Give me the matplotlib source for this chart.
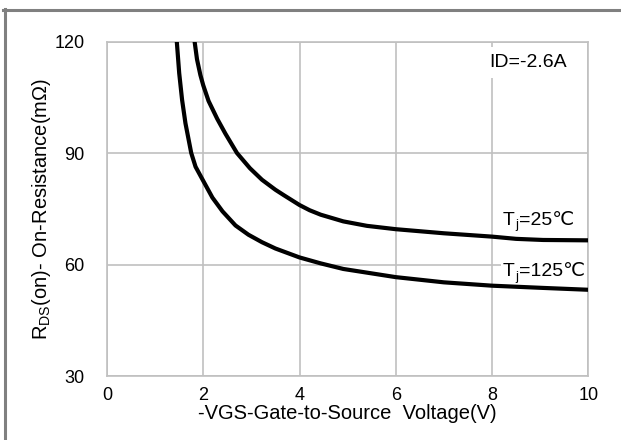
import numpy as np
import matplotlib
matplotlib.use("Agg")
import matplotlib.pyplot as plt
from matplotlib.lines import Line2D

plt.rcParams['font.family'] = ['Liberation Sans', 'DejaVu Sans']
plt.rcParams['mathtext.fontset'] = 'custom'
plt.rcParams['mathtext.rm'] = 'Liberation Sans'

# data
vgs_25 = [1.82, 1.87, 1.94, 2.0, 2.11, 2.29, 2.46, 2.70, 2.97, 3.22, 3.50, 3.68, 4.0, 4.21, 4.44,
          4.91, 5.4, 6.0, 7.0, 8.0, 8.5, 9.06, 10.0]
rds_25 = [120.0, 115.2, 111.0, 108.2, 104.0, 99.2, 95.2, 90.0, 85.9, 82.8, 80.1, 78.6, 76.0, 74.6, 73.4,
          71.6, 70.4, 69.5, 68.4, 67.5, 66.9, 66.6, 66.5]

vgs_125 = [1.45, 1.50, 1.56, 1.63, 1.75, 1.84, 2.0, 2.19, 2.40, 2.67, 2.94, 3.22, 3.50, 4.0, 4.44,
           4.91, 6.0, 7.0, 8.0, 9.06, 10.0]
rds_125 = [120.0, 111.5, 104.3, 98.0, 90.0, 86.3, 82.5, 78.0, 74.3, 70.5, 68.0, 66.0, 64.3, 61.9, 60.3,
           58.8, 56.6, 55.2, 54.3, 53.7, 53.2]

x_ticks = [0, 2, 4, 6, 8, 10]
y_ticks = [30, 60, 90, 120]

fig = plt.figure(figsize=(6.21, 4.40), dpi=100)
ax = fig.add_axes([107 / 621, 1 - 376 / 440, 481.3 / 621, 334.5 / 440])

grid_c = '#c0c0c0'
for v, r in [(vgs_25, rds_25), (vgs_125, rds_125)]:
    ax.plot(v, r, color='black', lw=3.0, solid_capstyle='butt', solid_joinstyle='round', zorder=3)

ax.set_xlim(0, 10)
ax.set_ylim(30, 120)
ax.set_xticks(x_ticks)
ax.set_yticks(y_ticks)
ax.grid(True, color=grid_c, lw=1.2)
ax.set_axisbelow(True)
for s in ax.spines.values():
    s.set_color(grid_c)
    s.set_linewidth(1.2)
ax.tick_params(length=0, labelsize=13, colors='black')
ax.tick_params(axis='x', pad=8)
ax.tick_params(axis='y', pad=16)

ax.set_xlabel('-VGS-Gate-to-Source  Voltage(V)', fontsize=14.5, labelpad=0)
ax.set_ylabel(r'R$_\mathregular{DS}$(on)- On-Resistance(m$\mathregular{\Omega}$)', fontsize=14.5, labelpad=1)

ax.text(7.94, 113.1, 'ID=-2.6A', fontsize=14, ha='left', va='baseline',
        bbox=dict(facecolor='white', edgecolor='none', pad=5), zorder=2)


def tj_label(x, y, rest, box=False):
    # "T" with subscript "j", then the rest on the same baseline
    kw = {}
    if box:
        kw['bbox'] = dict(facecolor='white', edgecolor='none', pad=1.5)
    t = ax.text(x, y, 'T', fontsize=14, ha='left', va='baseline', zorder=2, **kw)
    j = ax.annotate('j', xy=(1, 0), xycoords=t, xytext=(0.2, 0.3), textcoords='offset points',
                    fontsize=9.5, ha='left', va='baseline', zorder=4)
    ax.annotate(rest, xy=(1, 0), xycoords=(j, t), xytext=(0.3, 0), textcoords='offset points',
                fontsize=14, ha='left', va='bottom', zorder=2, **kw)


tj_label(8.23, 70.7, '=25℃')
tj_label(8.23, 56.8, '=125℃', box=True)

# gray frame at top and left of the picture
frame_c = '#808080'
fig.add_artist(Line2D([3 / 621, 1.0], [1 - 10.5 / 440, 1 - 10.5 / 440], color=frame_c, lw=2.2,
                      transform=fig.transFigure))
fig.add_artist(Line2D([4.5 / 621, 4.5 / 621], [0.0, 1 - 9 / 440], color=frame_c, lw=2.2,
                      transform=fig.transFigure))

fig.savefig('out.png', dpi=100)
